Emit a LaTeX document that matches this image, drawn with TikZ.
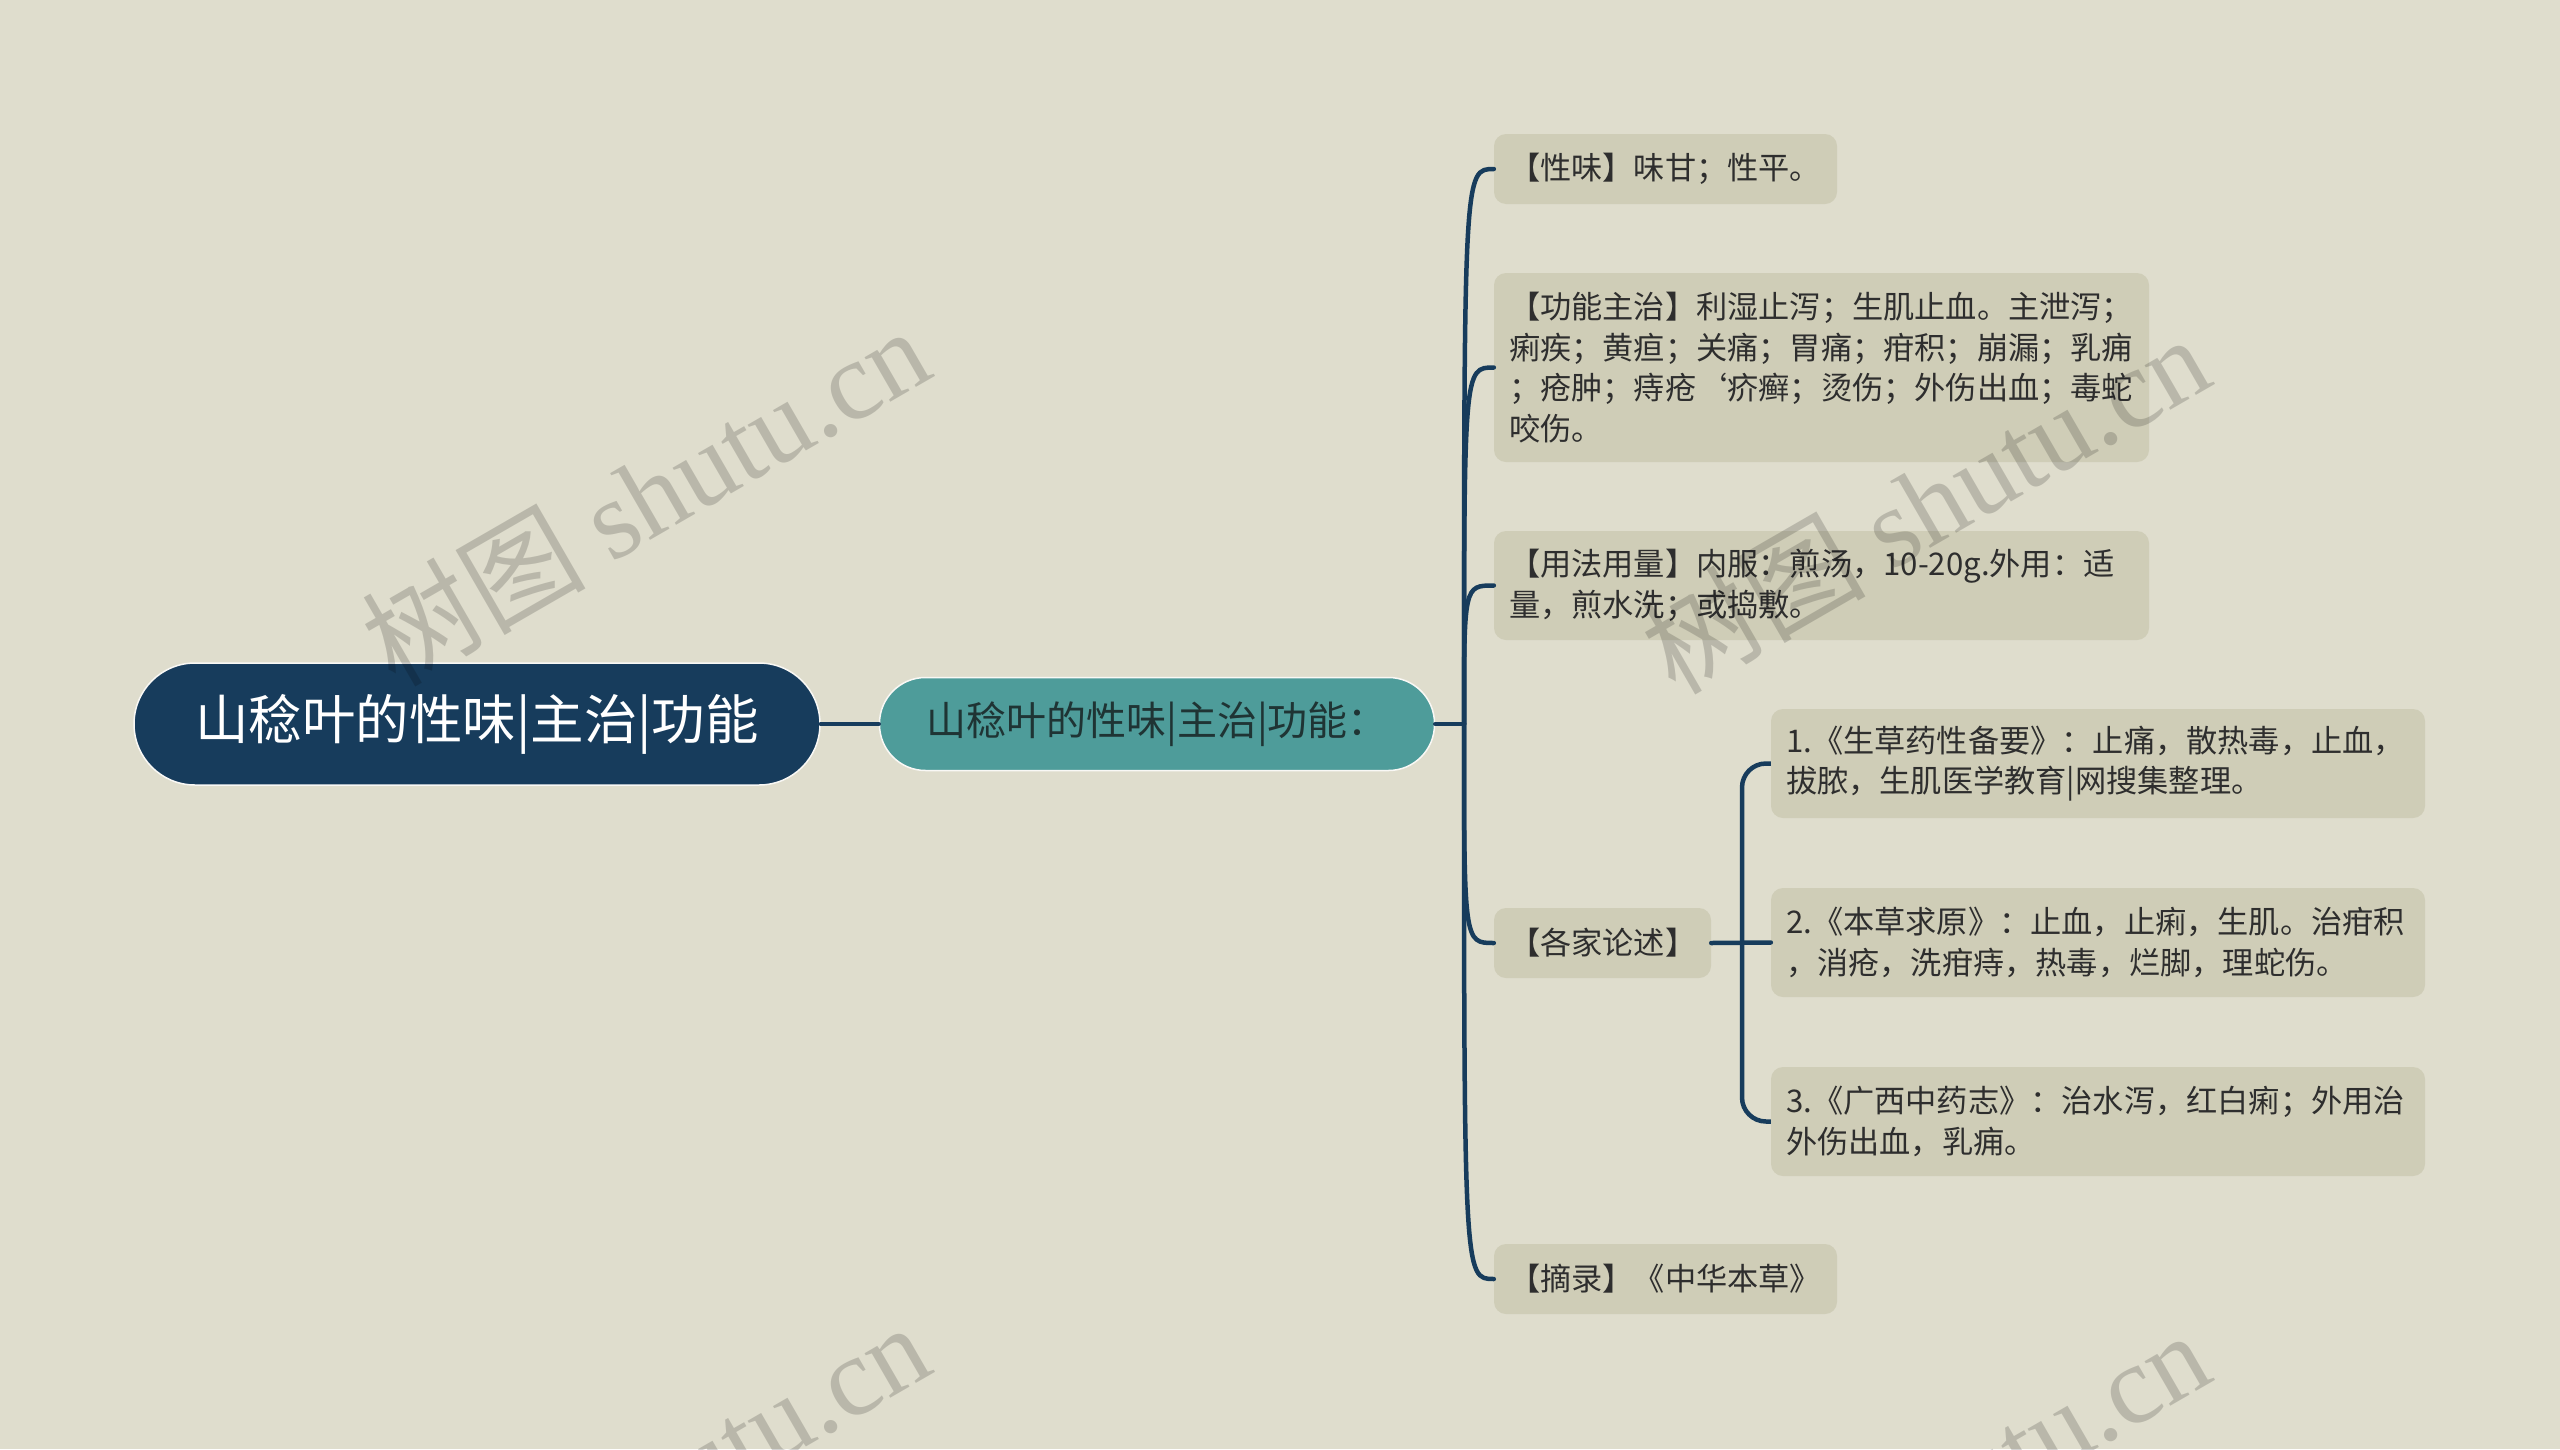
\documentclass[tikz,border=0pt]{standalone}
\usepackage{fontspec}
\setmainfont{Noto Sans CJK SC}
\newfontfamily\wmlatin{Liberation Serif}
\definecolor{bg}{HTML}{DFDDCD}
\definecolor{leaf}{HTML}{CFCDB7}
\definecolor{navy}{HTML}{173C5C}
\definecolor{teal}{HTML}{4E9C9A}
\definecolor{ink}{HTML}{2E2E2E}
\definecolor{subink}{HTML}{1F3434}
\begin{document}
\begin{tikzpicture}[x=1pt,y=-1pt,
  leafbox/.style={rectangle, fill=leaf, rounded corners=12, inner xsep=15, inner ysep=0,
    align=left, text=ink, font=\fontsize{31.2}{40.5}\selectfont},
  conn/.style={draw=navy, line width=4.5, line cap=round},
  wm/.style={rotate=30, text=black, text opacity=0.17, font=\fontsize{112}{112}\selectfont}]
\useasboundingbox (0,0) rectangle (2560,1449);
\fill[bg] (0,0) rectangle (2560,1449);
\clip (0,0) rectangle (2560,1449);

% root and main topic
\node[rectangle, rounded corners=61, fill=navy, draw=white!80!bg, line width=1.5,
  minimum width=686, minimum height=122, text=white,
  font=\fontsize{53.5}{53.5}\selectfont] (root) at (477,724) {山稔叶的性味|主治|功能};
\node[rectangle, rounded corners=46, fill=teal, draw=white!80!bg, line width=1.5,
  minimum width=555, minimum height=93, text=subink,
  font=\fontsize{40}{40}\selectfont] (sub) at (1157,724) {山稔叶的性味|主治|功能：};

% leaves
\node[leafbox, text width=313, minimum height=70] (l1) at (1665.5,169)
  {【性味】味甘；性平。};
\node[leafbox, text width=625, minimum height=189] (l2) at (1821.5,367.5)
  {【功能主治】利湿止泻；生肌止血。主泄泻；\\痢疾；黄疸；关痛；胃痛；疳积；崩漏；乳痈\\；疮肿；痔疮‘疥癣；烫伤；外伤出血；毒蛇\\咬伤。};
\node[leafbox, text width=625, minimum height=109] (l3) at (1821.5,585.5)
  {【用法用量】内服：煎汤，10-20g.外用：适\\量，煎水洗；或捣敷。};
\node[leafbox, text width=187, minimum height=70] (l4) at (1602.5,943)
  {【各家论述】};
\node[leafbox, text width=313, minimum height=70] (l5) at (1665.5,1279)
  {【摘录】《中华本草》};

% sub leaves
\node[leafbox, text width=624, minimum height=109] (s1) at (2098,763.5)
  {1.《生草药性备要》：止痛，散热毒，止血，\\拔脓，生肌医学教育|网搜集整理。};
\node[leafbox, text width=624, minimum height=109] (s2) at (2098,942.5)
  {2.《本草求原》：止血，止痢，生肌。治疳积\\，消疮，洗疳痔，热毒，烂脚，理蛇伤。};
\node[leafbox, text width=624, minimum height=109] (s3) at (2098,1121.5)
  {3.《广西中药志》：治水泻，红白痢；外用治\\外伤出血，乳痈。};

% connectors
\coordinate (j1) at (1464,724);
\coordinate (j2) at (1742,942.5);
\draw[conn] (root.east) -- (sub.west);
\draw[conn] (sub.east) -- (j1);
\foreach \n in {l1,l2,l3,l4,l5}{
  \draw[conn] (j1) .. controls (j1 |- \n.west) .. (\n.west);
}
\draw[conn] (l4.east) -- (s2.west);
\draw[conn, line cap=butt, rounded corners=24] (s1.west) -| (j2) |- (s3.west);

% watermarks
\node[wm] (wm1) at (645,495) {树图 {\wmlatin shutu.cn}};
\node[wm] (wm2) at (1925,503) {树图 {\wmlatin shutu.cn}};
\node[wm] (wm3) at (645,1491) {树图 {\wmlatin shutu.cn}};
\node[wm] (wm4) at (1925,1499) {树图 {\wmlatin shutu.cn}};
\end{tikzpicture}
\end{document}
